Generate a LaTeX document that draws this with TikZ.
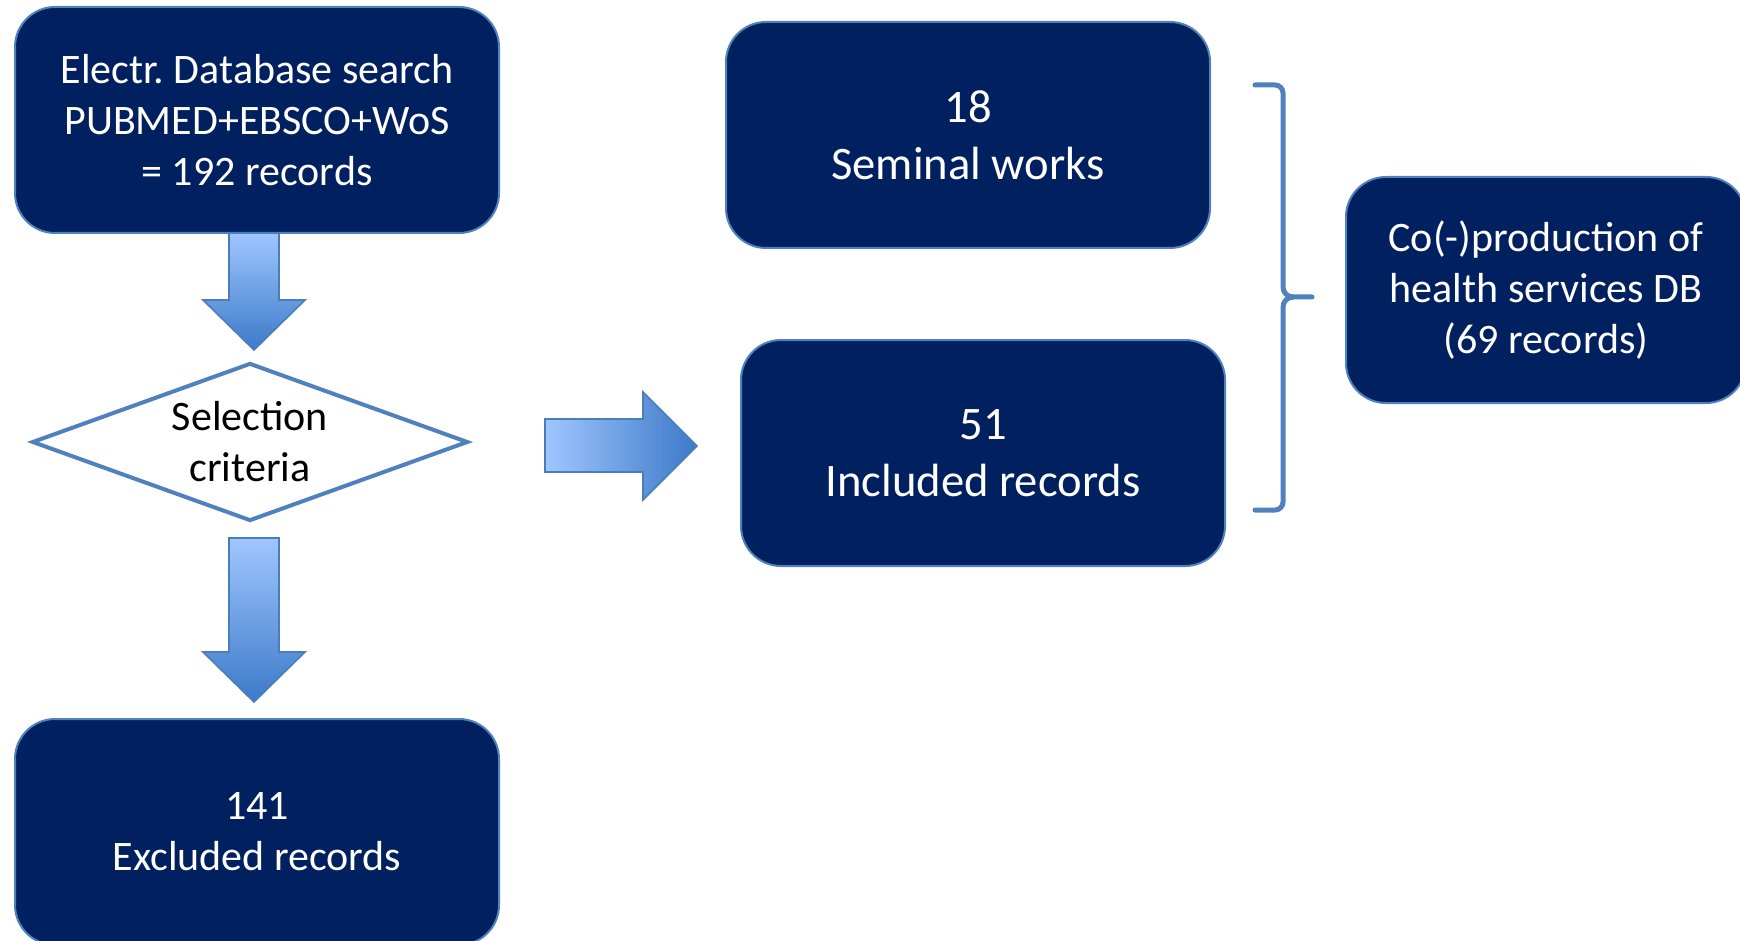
\documentclass[tikz,border=0pt]{standalone}
\usepackage{fontspec}
\setmainfont{Carlito}
\usetikzlibrary{shapes.geometric}
\frenchspacing
\definecolor{navy}{RGB}{0,32,96}
\definecolor{edgeblue}{RGB}{79,129,189}
\definecolor{arrowlight}{RGB}{160,198,255}
\definecolor{arrowdark}{RGB}{60,122,200}
\definecolor{arrowedge}{RGB}{74,126,187}
\tikzset{
  recbox/.style={draw=edgeblue, line width=1pt, fill=navy, rounded corners=20pt,
    text=white, align=center, minimum width=242pt, minimum height=113pt,
    font=\fontsize{21}{25.5}\selectfont},
  bigtext/.style={font=\fontsize{23.3}{28.5}\selectfont},
  decision/.style={draw=edgeblue, line width=2pt, fill=white, shape=diamond,
    aspect=2.73, minimum width=218pt, minimum height=79pt, inner sep=0pt,
    align=center, font=\fontsize{21}{25.5}\selectfont},
  blockarrow/.style={draw=arrowedge, line width=0.8pt},
}

\begin{document}
\begin{tikzpicture}[x=0.5pt,y=-0.5pt]
    \useasboundingbox (0,0) rectangle (1740,941);
    \node[recbox] (search) at (257,120) {Electr. Database search\\PUBMED+EBSCO+WoS\\= 192 records};
    \node[decision] (select) at (250,442) {Selection\\criteria};
    \node[recbox] (excluded) at (257,832) {141\\Excluded records};
    \node[recbox, bigtext] (seminal) at (968,135) {18\\Seminal works};
    \node[recbox, bigtext] (included) at (983,453) {51\\Included records};
    \node[recbox, minimum width=200pt] (coprod) at (1546,290) {Co(-)production of\\health services DB\\(69 records)};
    % block arrows
    \path[blockarrow, top color=arrowlight, bottom color=arrowdark]
      (229,233) -- (279,233) -- (279,300) -- (305,300) -- (254,350) -- (203,300) -- (229,300) -- cycle;
    \path[blockarrow, top color=arrowlight, bottom color=arrowdark]
      (229,538) -- (279,538) -- (279,652) -- (305,652) -- (254,702) -- (203,652) -- (229,652) -- cycle;
    \path[blockarrow, left color=arrowlight, right color=arrowdark]
      (545,419) -- (643,419) -- (643,392) -- (697,446) -- (643,500) -- (643,472) -- (545,472) -- cycle;
    % brace
    \coordinate (bracetip) at (1312,297);
    \draw[edgeblue, line width=2.5pt, line cap=round]
      (1255,85) -- (1275,85) to[out=0,in=90] (1283,93) -- (1283,287)
      to[out=-90,in=180] (1293,297) -- (bracetip);
    \draw[edgeblue, line width=2.5pt, line cap=round]
      (1293,297) to[out=180,in=90] (1283,307) -- (1283,502)
      to[out=-90,in=0] (1275,510) -- (1255,510);
  \end{tikzpicture}
\end{document}
